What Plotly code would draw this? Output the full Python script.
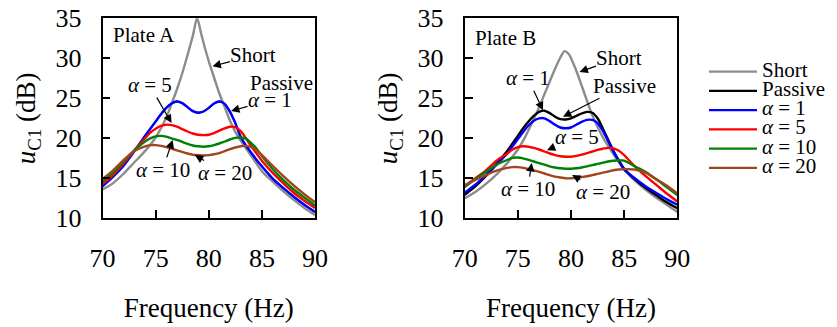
import plotly.graph_objects as go

# ---------------- data ----------------
freq = [70, 71, 72, 73, 74, 74.5, 75, 75.5, 76, 76.5, 77, 77.5, 78, 78.5, 79, 79.5,
        80, 80.5, 81, 81.5, 82, 82.5, 83, 83.5, 84, 84.5, 85, 86, 87, 88, 89, 90]

# Plate A
short_a_freq = [70, 71, 72, 73, 74, 75, 76, 76.5, 77, 77.5, 78, 78.5, 78.9, 79.3, 79.7,
                80.1, 80.5, 81, 81.5, 82, 82.5, 83, 84, 85, 86, 87, 88, 89, 90]
short_a = [13.6, 14.4, 15.6, 17.0, 18.4, 20.1, 22.6, 24.3, 26.1, 28.1, 30.4, 32.8, 35.0, 33.0, 31.0,
           29.2, 27.6, 25.6, 23.9, 22.2, 20.8, 19.7, 17.8, 15.9, 14.6, 13.4, 12.3, 11.3, 10.4]
alpha1_a = [14.0, 15.2, 16.6, 18.4, 20.3, 21.2, 22.1, 23.0, 23.8, 24.35, 24.6, 24.4, 23.9, 23.4, 23.2, 23.35,
            23.8, 24.35, 24.6, 24.3, 23.3, 21.9, 20.2, 19.1, 18.2, 17.3, 16.5, 15.0, 13.8, 12.7, 11.7, 10.8]
passive_a = alpha1_a  # Passive coincides with alpha = 1 on plate A
alpha5_a = [14.3, 15.4, 16.9, 18.5, 20.0, 20.7, 21.2, 21.55, 21.7, 21.65, 21.45, 21.15, 20.85, 20.6, 20.45, 20.4,
            20.45, 20.65, 20.95, 21.25, 21.45, 21.4, 20.9, 20.0, 19.0, 18.1, 17.2, 15.7, 14.4, 13.2, 12.2, 11.3]
alpha10_a = [14.6, 15.7, 17.1, 18.5, 19.6, 20.0, 20.25, 20.3, 20.2, 20.0, 19.8, 19.55, 19.3, 19.1, 19.0, 18.95,
             19.0, 19.15, 19.35, 19.6, 19.85, 20.05, 20.1, 19.95, 19.4, 18.7, 17.8, 16.2, 14.8, 13.6, 12.6, 11.6]
alpha20_a = [14.9, 16.0, 17.3, 18.4, 19.0, 19.15, 19.15, 19.05, 18.9, 18.7, 18.5, 18.3, 18.1, 17.95, 17.9, 17.85,
             17.9, 18.0, 18.15, 18.4, 18.65, 18.85, 19.0, 19.05, 18.9, 18.5, 17.9, 16.6, 15.3, 14.1, 13.0, 12.0]

# Plate B
short_b_freq = [70, 71, 72, 73, 74, 75, 75.5, 76, 76.5, 77, 77.5, 78, 78.5, 79, 79.4, 79.8,
                80.2, 80.6, 81, 81.5, 82, 82.5, 83, 84, 85, 86, 87, 88, 89, 90]
short_b = [12.5, 13.3, 14.3, 15.5, 16.9, 18.6, 19.7, 21.0, 22.4, 23.9, 25.5, 27.1, 28.7, 30.1, 30.9, 30.5,
           29.4, 28.1, 26.6, 24.7, 22.9, 21.4, 20.1, 18.0, 16.1, 14.7, 13.6, 12.6, 11.7, 10.8]
passive_b = [12.95, 14.0, 15.3, 16.8, 18.4, 19.35, 20.3, 21.25, 22.1, 22.8, 23.3, 23.45, 23.15, 22.7, 22.4, 22.35,
             22.5, 22.8, 23.1, 23.3, 23.2, 22.5, 21.2, 19.8, 18.4, 17.2, 16.2, 14.9, 13.8, 12.9, 12.0, 11.25]
alpha1_b = [13.2, 14.2, 15.4, 16.7, 18.1, 19.0, 19.9, 20.8, 21.6, 22.2, 22.5, 22.5, 22.15, 21.7, 21.35, 21.25,
            21.35, 21.7, 22.05, 22.3, 22.3, 21.9, 20.9, 19.6, 18.3, 17.2, 16.1, 15.0, 14.0, 13.2, 12.4, 11.7]
alpha5_b = [14.0, 15.0, 16.0, 17.2, 18.1, 18.6, 18.9, 19.0, 18.95, 18.8, 18.6, 18.35, 18.1, 17.9, 17.75, 17.7,
            17.7, 17.8, 17.95, 18.15, 18.35, 18.55, 18.7, 18.8, 18.75, 18.45, 17.9, 16.5, 15.3, 14.2, 13.1, 12.1]
alpha10_b = [13.9, 14.9, 15.8, 16.7, 17.3, 17.55, 17.6, 17.5, 17.3, 17.1, 16.9, 16.7, 16.5, 16.35, 16.25, 16.2,
             16.2, 16.25, 16.35, 16.5, 16.65, 16.8, 16.95, 17.1, 17.2, 17.25, 17.2, 16.5, 15.8, 14.9, 13.9, 12.9]
alpha20_b = [14.15, 14.8, 15.4, 15.95, 16.3, 16.4, 16.4, 16.3, 16.15, 16.0, 15.8, 15.6, 15.4, 15.2, 15.1, 15.0,
             15.0, 15.05, 15.15, 15.25, 15.4, 15.55, 15.7, 15.85, 16.0, 16.1, 16.15, 16.1, 15.7, 14.9, 14.1, 13.1]

series_names = ["Short", "Passive", "<i>α</i> = 1", "<i>α</i> = 5", "<i>α</i> = 10", "<i>α</i> = 20"]
series_colors = ["#8c8c8c", "#000000", "#0000ff", "#ff0000", "#008000", "#a0461e"]
x_ticks = [70, 75, 80, 85, 90]
y_ticks = [10, 15, 20, 25, 30, 35]

# ---------------- figure ----------------
W, H = 837, 327
FONT = "Liberation Serif"
fig = go.Figure()

plates = [
    ("x", "y", [(short_a_freq, short_a), (freq, passive_a), (freq, alpha1_a),
                (freq, alpha5_a), (freq, alpha10_a), (freq, alpha20_a)]),
    ("x2", "y2", [(short_b_freq, short_b), (freq, passive_b), (freq, alpha1_b),
                  (freq, alpha5_b), (freq, alpha10_b), (freq, alpha20_b)]),
]
for pi, (xa, ya, data) in enumerate(plates):
    for si, (fx, vals) in enumerate(data):
        width = 2.4
        if pi == 0 and si == 1:
            width = 1.8  # hidden under alpha = 1 on plate A
        fig.add_trace(go.Scatter(
            x=fx, y=vals, mode="lines", xaxis=xa, yaxis=ya,
            line=dict(color=series_colors[si], width=width, shape="spline", smoothing=0.8),
            name='<span style="font-size:21px">' + series_names[si] + "</span>",
            legendgroup=str(si), showlegend=(pi == 1),
        ))

def xpos(px):
    return px / W

def ypos(py):
    return (H - py) / H

axis_common = dict(
    showline=True, linecolor="black", linewidth=1.8, mirror=True,
    ticks="inside", ticklen=8, tickwidth=1.5, tickcolor="black",
    showgrid=False, zeroline=False, automargin=False,
    tickfont=dict(family=FONT, size=26, color="black"),
)
xdom_a = [xpos(102.5), xpos(315)]
xdom_b = [xpos(464.7), xpos(677.3)]
ydom = [ypos(218.3), ypos(18.3)]

xtitle = dict(text="Frequency (Hz)", font=dict(family=FONT, size=27, color="black"), standoff=26)
ytitle = dict(text="<i>u</i><sub>C1</sub> (dB)", font=dict(family=FONT, size=27, color="black"), standoff=12)

fig.update_layout(
    width=W, height=H, autosize=False,
    margin=dict(l=0, r=0, t=0, b=0, autoexpand=False),
    paper_bgcolor="white", plot_bgcolor="white",
    font=dict(family=FONT, color="black"),
    xaxis=dict(domain=xdom_a, range=[70, 90], tickvals=x_ticks, anchor="y",
               title=xtitle, ticklabelstandoff=16, **axis_common),
    yaxis=dict(domain=ydom, range=[10, 35], tickvals=y_ticks, anchor="x",
               title=ytitle, ticklabelstandoff=14, **axis_common),
    xaxis2=dict(domain=xdom_b, range=[70, 90], tickvals=x_ticks, anchor="y2",
                title=xtitle, ticklabelstandoff=16, **axis_common),
    yaxis2=dict(domain=ydom, range=[10, 35], tickvals=y_ticks, anchor="x2",
                title=ytitle, ticklabelstandoff=14, **axis_common),
    legend=dict(x=xpos(704), y=ypos(57), xanchor="left", yanchor="top",
                font=dict(family=FONT, size=12.5, color="black"),
                bgcolor="rgba(0,0,0,0)", tracegroupgap=0, itemwidth=48),
)

# ---------------- annotations ----------------
tfont = dict(family=FONT, size=21, color="black")
plain_labels = [
    ("x", "y", 73.9, 32.9, "Plate A"),
    ("x", "y", 86.8, 26.9, "Passive"),
    ("x2", "y2", 73.8, 32.6, "Plate B"),
]
arrow_labels = [
    # (xref, yref, head x, head y, text offset dx px, dy px, text)
    ("x", "y", 80.35, 29.0, 41, -11, "Short"),
    ("x", "y", 82.1, 23.4, 39, -11, "<i>α</i> = 1"),
    ("x", "y", 76.5, 21.9, -22, -38, "<i>α</i> = 5"),
    ("x", "y", 76.6, 19.8, -10, 30, "<i>α</i> = 10"),
    ("x", "y", 78.7, 17.9, 30, 18, "<i>α</i> = 20"),
    ("x2", "y2", 80.8, 28.3, 40, -14, "Short"),
    ("x2", "y2", 79.25, 22.7, 61, -31, "Passive"),
    ("x2", "y2", 77.36, 23.5, -15, -32, "<i>α</i> = 1"),
    ("x2", "y2", 77.74, 18.5, 30, -13, "<i>α</i> = 5"),
    ("x2", "y2", 76.3, 16.9, -4, 26, "<i>α</i> = 10"),
    ("x2", "y2", 80.1, 15.4, 31, 17, "<i>α</i> = 20"),
]
ann = []
for xr, yr, x, y, t in plain_labels:
    ann.append(dict(xref=xr, yref=yr, x=x, y=y, text=t, showarrow=False,
                    font=tfont, xanchor="center", yanchor="middle"))
for xr, yr, x, y, dx, dy, t in arrow_labels:
    ann.append(dict(xref=xr, yref=yr, x=x, y=y, ax=dx, ay=dy, text=t, showarrow=True,
                    font=tfont, arrowhead=2, arrowsize=1.4, arrowwidth=1.2,
                    arrowcolor="black", standoff=0, borderpad=0))
fig.update_layout(annotations=ann)

fig.write_html("out.html", config={"displayModeBar": False},
               post_script="document.body.style.margin='0px';")
